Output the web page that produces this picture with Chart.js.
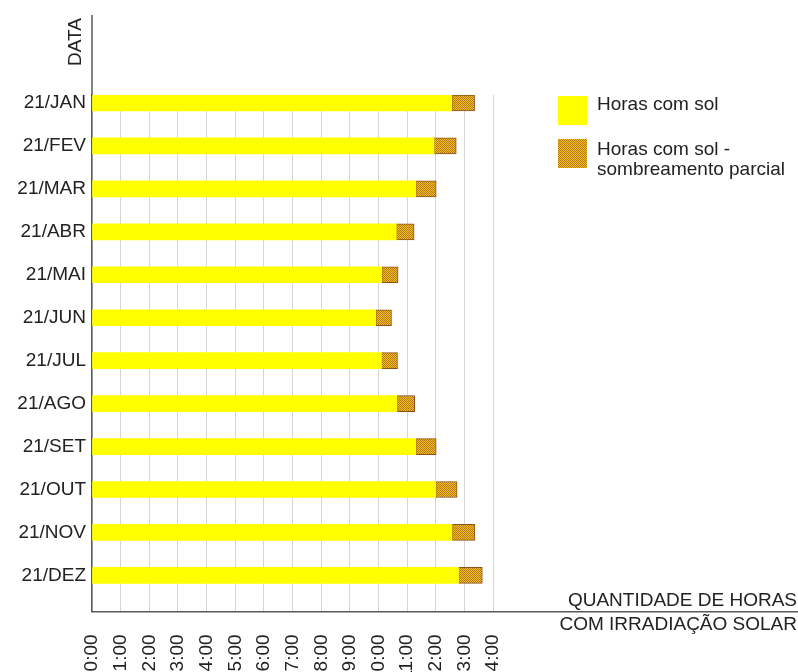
<!DOCTYPE html>
<html>
    <head>
        <meta charset="utf-8">
        <title>Horas com irradiação solar</title>
        <script src="https://cdn.jsdelivr.net/npm/chart.js@4.4.0/dist/chart.umd.min.js"></script>
        <style>
            body { margin: 0; overflow: hidden; background: #fff; }
            #wrap { position: relative; width: 798px; height: 705px; }
        </style>
    </head>
    <body>
        <div id="wrap"><canvas id="chart"></canvas></div>
        <script>
            // datas (dia 21 de cada mês)
            const meses = ["21/JAN", "21/FEV", "21/MAR", "21/ABR", "21/MAI", "21/JUN",
                           "21/JUL", "21/AGO", "21/SET", "21/OUT", "21/NOV", "21/DEZ"];
            // horas com sol pleno
            const horasSol = [12.55, 11.94, 11.30, 10.62, 10.11, 9.90,
                              10.10, 10.64, 11.30, 11.99, 12.56, 12.79];
            // total de horas incluindo o sombreamento parcial
            const horasTotal = [13.35, 12.71, 12.01, 11.24, 10.68, 10.45,
                                10.66, 11.26, 12.01, 12.74, 13.36, 13.62];
            // rótulos do eixo x
            const horasLabels = ["00:00", "01:00", "02:00", "03:00", "04:00", "05:00", "06:00", "07:00",
                                 "08:00", "09:00", "10:00", "11:00", "12:00", "13:00", "14:00"];
            const legendaSol = ["Horas com sol"];
            const legendaParcial = ["Horas com sol -", "sombreamento parcial"];

            const FONTE = "'Liberation Sans', Arial, sans-serif";

            // textura pontilhada para o sombreamento parcial
            function hachura() {
                const c = document.createElement('canvas');
                c.width = 2; c.height = 2;
                const g = c.getContext('2d');
                g.fillStyle = '#F6BE1C';
                g.fillRect(0, 0, 2, 2);
                g.fillStyle = '#B27818';
                g.fillRect(0, 0, 1, 1);
                g.fillRect(1, 1, 1, 1);
                return g.createPattern(c, 'repeat');
            }
            const padrao = hachura();

            // legenda, títulos dos eixos e prolongamento do eixo y
            const extras = {
                id: 'extras',
                afterDraw(chart) {
                    const ctx = chart.ctx;
                    const area = chart.chartArea;
                    ctx.save();
                    // eixo y prolongado até o título
                    ctx.strokeStyle = '#5a5a5a';
                    ctx.lineWidth = 1.5;
                    ctx.beginPath();
                    ctx.moveTo(area.left, 15);
                    ctx.lineTo(area.left, area.top);
                    ctx.stroke();

                    ctx.fillStyle = '#222';
                    ctx.font = '19px ' + FONTE;
                    // título do eixo y
                    ctx.save();
                    ctx.translate(81, 42);
                    ctx.rotate(-Math.PI / 2);
                    ctx.textAlign = 'center';
                    ctx.textBaseline = 'alphabetic';
                    ctx.fillText('DATA', 0, 0);
                    ctx.restore();

                    // título do eixo x
                    ctx.textAlign = 'right';
                    ctx.textBaseline = 'alphabetic';
                    ctx.fillText('QUANTIDADE DE HORAS', 797, 606);
                    ctx.fillText('COM IRRADIAÇÃO SOLAR', 797, 630);

                    // legenda
                    ctx.fillStyle = chart.data.datasets[0].backgroundColor;
                    ctx.fillRect(558, 96, 29, 29);
                    ctx.fillStyle = padrao;
                    ctx.fillRect(558, 139, 29, 29);
                    ctx.fillStyle = '#222';
                    ctx.textAlign = 'left';
                    ctx.textBaseline = 'middle';
                    legendaSol.forEach((t, i) => ctx.fillText(t, 597, 105 + i * 20));
                    legendaParcial.forEach((t, i) => ctx.fillText(t, 597, 150 + i * 20));
                    ctx.restore();
                }
            };

            const data = {
                datasets: [{
                    label: legendaSol.join(' '),
                    data: horasSol.map((v, i) => ({ x: v, y: i })),
                    backgroundColor: '#FFFF00',
                    borderWidth: 0,
                    barThickness: 16,
                    grouped: false
                }, {
                    label: legendaParcial.join(' '),
                    data: horasSol.map((v, i) => ({ x: [v, horasTotal[i]], y: i })),
                    backgroundColor: padrao,
                    borderColor: '#8E5218',
                    borderWidth: 1,
                    borderSkipped: false,
                    barThickness: 16,
                    grouped: false
                }]
            };

            const config = {
                type: 'bar',
                data: data,
                options: {
                    indexAxis: 'y',
                    responsive: true,
                    maintainAspectRatio: false,
                    animation: false,
                    layout: { padding: { top: 95, right: 1, left: 0, bottom: 0 } },
                    plugins: {
                        legend: { display: false },
                        tooltip: { enabled: false }
                    },
                    scales: {
                        x: {
                            type: 'linear',
                            min: 0,
                            max: 24.6,
                            afterBuildTicks: (s) => { s.ticks = horasLabels.map((t, i) => ({ value: i })); },
                            ticks: {
                                autoSkip: false,
                                minRotation: 90,
                                maxRotation: 90,
                                padding: 23,
                                color: '#222',
                                font: { family: FONTE, size: 19 },
                                callback: (v) => horasLabels[v]
                            },
                            grid: { color: '#d4d4d4', lineWidth: 1, drawTicks: false },
                            border: { color: '#5a5a5a', width: 1.5 }
                        },
                        y: {
                            type: 'linear',
                            reverse: true,
                            offset: false,
                            min: -0.186,
                            max: 11.84,
                            afterBuildTicks: (s) => { s.ticks = meses.map((m, i) => ({ value: i })); },
                            afterFit: (s) => { s.width = 92; },
                            ticks: {
                                autoSkip: false,
                                padding: 6,
                                color: '#222',
                                font: { family: FONTE, size: 19 },
                                callback: (v) => meses[v]
                            },
                            grid: { display: false, drawTicks: false },
                            border: { color: '#5a5a5a', width: 1.5 }
                        }
                    }
                },
                plugins: [extras]
            };

            new Chart(document.getElementById('chart').getContext('2d'), config);
        </script>
    </body>
</html>
